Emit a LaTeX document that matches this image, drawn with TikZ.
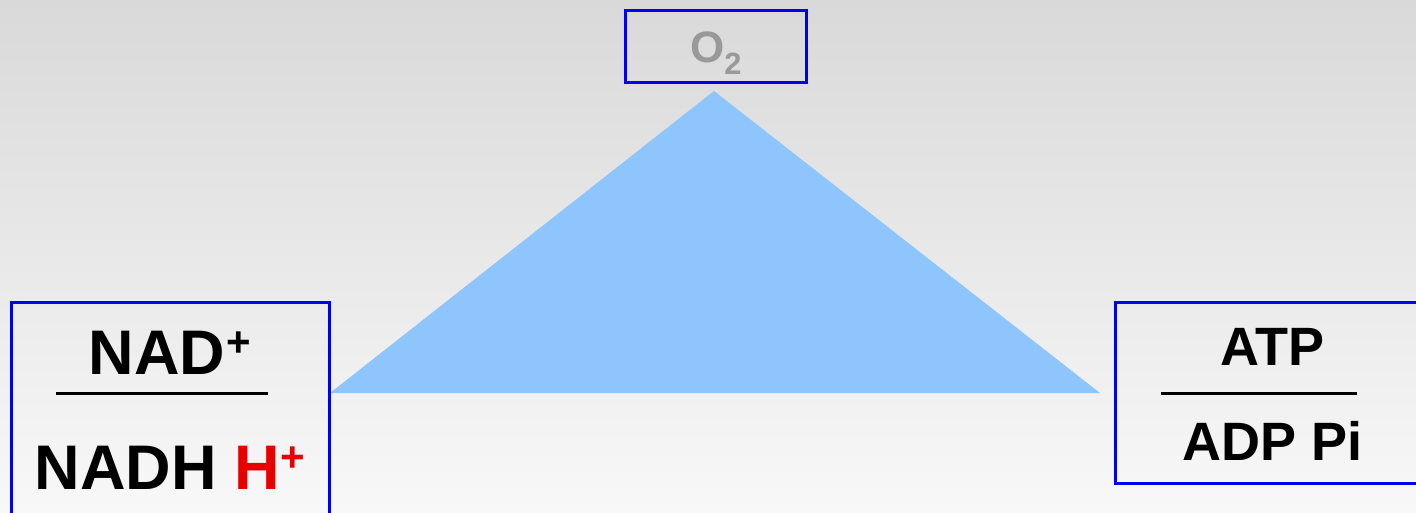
\documentclass[tikz,border=0pt]{standalone}
\usepackage{fontspec}
\setmainfont{Liberation Sans}
\definecolor{boxblue}{HTML}{0000F0}
\definecolor{tri}{HTML}{8EC5FC}
\definecolor{otext}{HTML}{999999}
\definecolor{hred}{HTML}{E60000}
\newcommand\plussup{\kern1pt\raisebox{18pt}{\fontsize{42}{42}\selectfont +}}
\begin{document}
\begin{tikzpicture}[x=1pt,y=-1pt,
  frame/.style={draw=boxblue,line width=3pt,inner sep=0pt},
  big/.style={font=\fontsize{63}{68}\selectfont\bfseries,anchor=base,inner sep=0pt},
  mid/.style={font=\fontsize{54}{58}\selectfont\bfseries,anchor=base,inner sep=0pt},
  rule/.style={line width=3pt,black}]
\useasboundingbox (0,0) rectangle (1416,512);
\shade[top color={rgb,255:red,217;green,217;blue,217},bottom color={rgb,255:red,248;green,248;blue,248}] (0,0) rectangle (1416,512);
\begin{scope}
\clip (0,0) rectangle (1416,512);
% O2 box
\draw[frame] (625,10) rectangle (806,82);
\node[font=\fontsize{44}{48}\selectfont\bfseries,text=otext,anchor=base,inner sep=0pt] (o2) at (716,62) {O\textsubscript{2}};
% triangle
\fill[tri] (714,91) -- (1100,393) -- (330,393) -- cycle;
% left box
\draw[frame] (11,302) rectangle (329,530);
\node[big] (nad) at (170,374) {NAD\plussup};
\coordinate (l1) at (56,393);
\coordinate (l2) at (268,393);
\draw[rule] (l1) -- (l2);
\node[big] (nadh) at (170,489) {NADH \textcolor{hred}{H\plussup}};
% right box
\draw[frame] (1115,302) rectangle (1430,483);
\node[mid] (atp) at (1272,365) {ATP};
\coordinate (r1) at (1161,393);
\coordinate (r2) at (1357,393);
\draw[rule] (r1) -- (r2);
\node[mid] (adp) at (1273,460) {ADP Pi};
\end{scope}
\end{tikzpicture}
\end{document}
